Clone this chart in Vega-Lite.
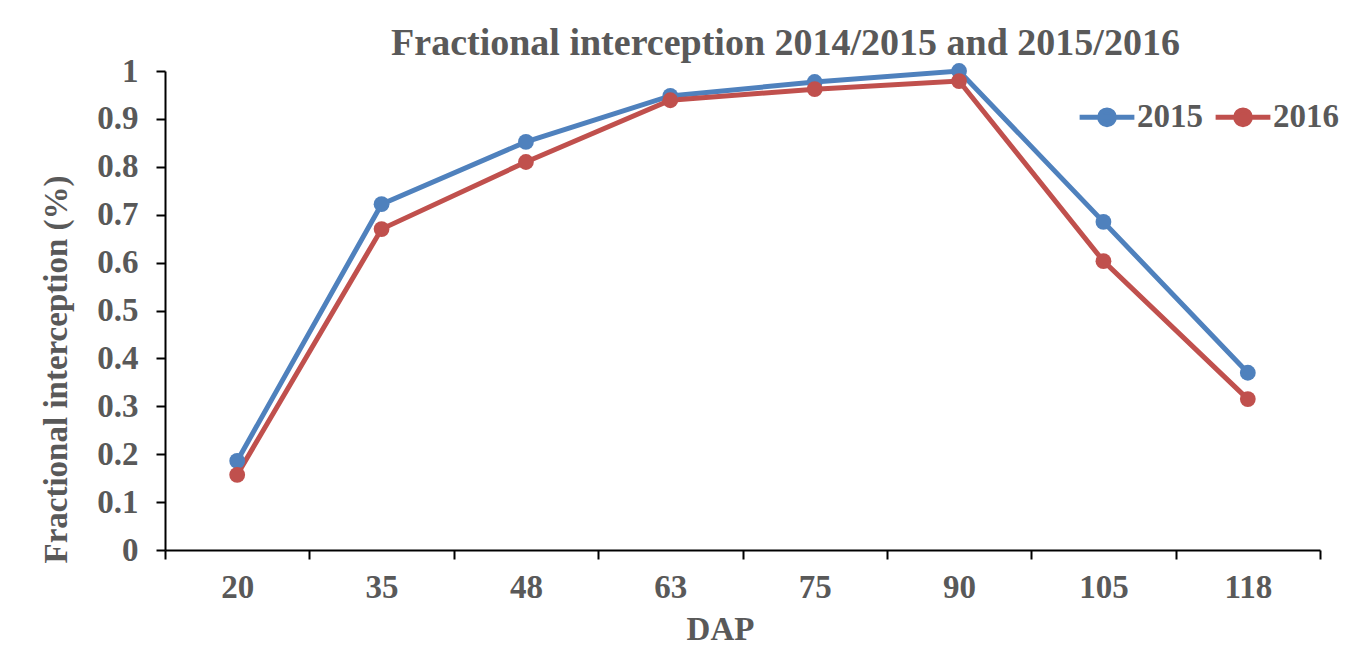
{
  "$schema": "https://vega.github.io/schema/vega-lite/v6.json",
  "autosize": "none",
  "width": 1155,
  "height": 479,
  "padding": {"left": 165, "top": 71, "right": 39, "bottom": 98},
  "background": "white",
  "config": {
    "view": {"stroke": null},
    "font": "Liberation Serif"
  },
  "title": {
    "text": "Fractional interception 2014/2015 and 2015/2016",
    "font": "Liberation Serif",
    "fontSize": 38,
    "fontWeight": "bold",
    "color": "#595959",
    "anchor": "middle",
    "dx": 43,
    "offset": -8
  },
  "data": {
    "values": [
      {"DAP": "20", "year": "2015", "value": 0.186},
      {"DAP": "35", "year": "2015", "value": 0.722},
      {"DAP": "48", "year": "2015", "value": 0.852},
      {"DAP": "63", "year": "2015", "value": 0.948},
      {"DAP": "75", "year": "2015", "value": 0.977},
      {"DAP": "90", "year": "2015", "value": 1.0},
      {"DAP": "105", "year": "2015", "value": 0.685},
      {"DAP": "118", "year": "2015", "value": 0.37},
      {"DAP": "20", "year": "2016", "value": 0.157},
      {"DAP": "35", "year": "2016", "value": 0.670},
      {"DAP": "48", "year": "2016", "value": 0.810},
      {"DAP": "63", "year": "2016", "value": 0.939},
      {"DAP": "75", "year": "2016", "value": 0.962},
      {"DAP": "90", "year": "2016", "value": 0.979},
      {"DAP": "105", "year": "2016", "value": 0.603},
      {"DAP": "118", "year": "2016", "value": 0.315}
    ]
  },
  "encoding": {
    "x": {
      "field": "DAP",
      "type": "ordinal",
      "sort": ["20", "35", "48", "63", "75", "90", "105", "118"],
      "scale": {"type": "band", "paddingInner": 0, "paddingOuter": 0},
      "bandPosition": 0.5,
      "axis": {
        "title": "DAP",
        "titleX": 555,
        "labelAngle": 0,
        "tickBand": "extent",
        "domainColor": "black",
        "domainWidth": 2,
        "tickColor": "black",
        "tickWidth": 2,
        "tickSize": 9,
        "labelFont": "Liberation Serif",
        "labelFontSize": 33,
        "labelFontWeight": "bold",
        "labelColor": "#595959",
        "labelPadding": 12,
        "titleFont": "Liberation Serif",
        "titleFontSize": 33,
        "titleFontWeight": "bold",
        "titleColor": "#595959",
        "titlePadding": 9,
        "grid": false
      }
    },
    "y": {
      "field": "value",
      "type": "quantitative",
      "scale": {"domain": [0, 1], "nice": false, "zero": true},
      "axis": {
        "title": "Fractional interception (%)",
        "titleY": 298,
        "values": [0, 0.1, 0.2, 0.3, 0.4, 0.5, 0.6, 0.7, 0.8, 0.9, 1],
        "labelExpr": "datum.value == 0 ? '0' : datum.value == 1 ? '1' : format(datum.value, '.1f')",
        "grid": false,
        "domainColor": "black",
        "domainWidth": 2,
        "tickColor": "black",
        "tickWidth": 2,
        "tickSize": 9,
        "labelFont": "Liberation Serif",
        "labelFontSize": 33,
        "labelFontWeight": "bold",
        "labelColor": "#595959",
        "labelPadding": 18,
        "titleFont": "Liberation Serif",
        "titleFontSize": 33,
        "titleFontWeight": "bold",
        "titleColor": "#595959",
        "titlePadding": 23
      }
    },
    "color": {
      "field": "year",
      "type": "nominal",
      "scale": {"domain": ["2015", "2016"], "range": ["#4F81BD", "#C0504D"]},
      "legend": {
        "title": null,
        "orient": "none",
        "legendX": 912,
        "legendY": 16,
        "direction": "horizontal",
        "symbolType": "M-1,0H1M0.27,0A0.27,0.27,0,1,1,-0.27,0A0.27,0.27,0,1,1,0.27,0Z",
        "symbolSize": 3000,
        "symbolStrokeWidth": 5,
        "labelFont": "Liberation Serif",
        "labelFontSize": 33,
        "labelFontWeight": "bold",
        "labelColor": "#595959",
        "labelOffset": 0,
        "columnPadding": 2
      }
    }
  },
  "layer": [
    {"mark": {"type": "line", "strokeWidth": 5}},
    {"mark": {"type": "point", "filled": true, "size": 250, "opacity": 1}}
  ]
}
